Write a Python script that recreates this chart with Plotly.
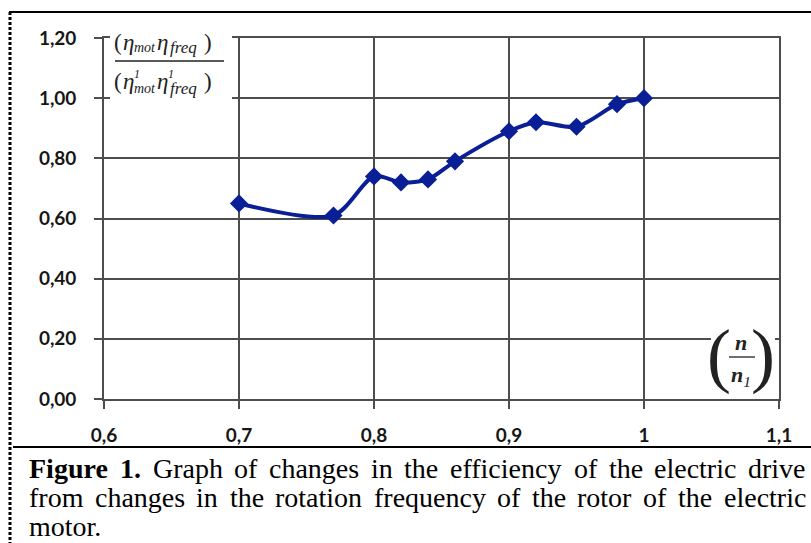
import plotly.graph_objects as go

# ---- data ----
speed_ratio = [0.70, 0.77, 0.80, 0.82, 0.84, 0.86, 0.90, 0.92, 0.95, 0.98, 1.00]
efficiency_ratio = [0.65, 0.61, 0.74, 0.72, 0.73, 0.79, 0.89, 0.92, 0.905, 0.98, 1.00]

x_tick_vals = [0.6, 0.7, 0.8, 0.9, 1.0, 1.1]
x_tick_text = ["0,6", "0,7", "0,8", "0,9", "1", "1,1"]
y_tick_vals = [0.0, 0.2, 0.4, 0.6, 0.8, 1.0, 1.2]
y_tick_text = ["0,00", "0,20", "0,40", "0,60", "0,80", "1,00", "1,20"]

caption_bold = "Figure 1."
caption_lines = [
    "Graph of changes in the efficiency of the electric drive",
    "from changes in the rotation frequency of the rotor of the electric",
    "motor.",
]

W, H = 811, 543
L, R, T, B = 104, 32, 38, 144
PW, PH = W - L - R, H - T - B


def px(x):
    return (x - L) / PW


def py(y):
    return (H - B - y) / PH


LINE = "#0A1F96"
GRID = "#4d4d4d"
TICKFONT = dict(family="Lato, 'Open Sans', sans-serif", size=19, color="#161616", weight="bold")

fig = go.Figure()
fig.add_trace(go.Scatter(
    x=speed_ratio, y=efficiency_ratio, mode="lines+markers",
    line=dict(color=LINE, width=4, shape="spline", smoothing=0.8),
    marker=dict(symbol="diamond", size=14, color=LINE),
    showlegend=False, hoverinfo="skip",
))

axis_common = dict(
    showgrid=True, gridcolor=GRID, gridwidth=1.6,
    showline=True, linecolor=GRID, linewidth=1.6,
    ticks="outside", ticklen=8, tickcolor=GRID, tickwidth=1.6,
    tickfont=TICKFONT, zeroline=False, mirror=True,
)

fig.update_xaxes(range=[0.6, 1.1], tickvals=x_tick_vals, ticktext=x_tick_text,
                 ticklabelstandoff=10, **axis_common)
fig.update_yaxes(range=[0, 1.2], tickvals=y_tick_vals, ticktext=y_tick_text,
                 ticklabelstandoff=14, **axis_common)

shapes = []
# white boxes behind axis labels
shapes.append(dict(type="rect", xref="paper", yref="paper", layer="above",
                   x0=px(110), x1=px(232), y0=py(101), y1=py(28),
                   fillcolor="white", line=dict(width=0)))
shapes.append(dict(type="rect", xref="paper", yref="paper", layer="above",
                   x0=px(711), x1=px(775), y0=py(395), y1=py(312),
                   fillcolor="white", line=dict(width=0)))
# fraction bars
shapes.append(dict(type="line", xref="paper", yref="paper", layer="above",
                   x0=px(115), x1=px(224), y0=py(61), y1=py(61),
                   line=dict(color="#222", width=1.3)))
shapes.append(dict(type="line", xref="paper", yref="paper", layer="above",
                   x0=px(729), x1=px(755), y0=py(357), y1=py(357),
                   line=dict(color="#222", width=1.3)))
# outer frame
shapes.append(dict(type="line", xref="paper", yref="paper",
                   x0=px(9), x1=px(811), y0=py(12), y1=py(12),
                   line=dict(color="black", width=2)))
shapes.append(dict(type="line", xref="paper", yref="paper",
                   x0=px(13), x1=px(811), y0=py(447), y1=py(447),
                   line=dict(color="black", width=2)))
shapes.append(dict(type="line", xref="paper", yref="paper",
                   x0=px(10), x1=px(10), y0=py(12), y1=py(543),
                   line=dict(color="black", width=3, dash="3px,2px")))

SERIF = "Liberation Serif, Times New Roman, serif"
ann = []


def label(text, x, y, size, xanchor="center", color="#222"):
    ann.append(dict(text=text, xref="paper", yref="paper", x=px(x), y=py(y),
                    xanchor=xanchor, yanchor="middle", borderpad=0,
                    showarrow=False, font=dict(family=SERIF, size=size, color=color)))


# y-axis label (fraction), built piece by piece
for yc, sup in ((42, False), (82, True)):
    label("(", 118, yc, 23)
    label("<i>η</i>", 128, yc, 23)
    label("<i>mot</i>", 145, yc + 6, 14)
    label("<i>η</i>", 162, yc, 23)
    label("<i>freq</i>", 183, yc + 6, 17)
    label(")", 208, yc, 23)
    if sup:
        label("<i>1</i>", 137, yc - 8, 12)
        label("<i>1</i>", 171, yc - 8, 12)

# x-axis label (n / n1)
label("(", 719, 355, 72)
label(")", 763, 355, 72)
label("<i><b>n</b></i>", 741, 342, 22)
label("<i><b>n</b></i><sub><i>1</i></sub>", 741, 376, 22)

# ---- caption: justified by placing words (Times metrics, per 1000 em) ----
REG = dict(a=444, b=500, c=444, d=500, e=444, f=333, g=500, h=500, i=278, j=278, k=500,
           l=278, m=778, n=500, o=500, p=500, q=500, r=333, s=389, t=278, u=500, v=500,
           w=722, x=500, y=500, z=444, G=722)
REG["."] = 250
BOLD = dict(F=611, i=278, g=500, u=556, r=444, e=444)
BOLD["1"] = 500
BOLD["."] = 250

FS = 28
X0, X1 = 28, 805


def wwidth(word, table):
    return sum(table.get(ch, 500) for ch in word) * FS / 1000.0


line_words = []
first = [(w, True) for w in caption_bold.split()] + [(w, False) for w in caption_lines[0].split()]
line_words.append((first, True))
line_words.append(([(w, False) for w in caption_lines[1].split()], True))
line_words.append(([(w, False) for w in caption_lines[2].split()], False))

for li, (words, justify) in enumerate(line_words):
    widths = [wwidth(w, BOLD if b else REG) for w, b in words]
    if justify and len(words) > 1:
        gap = (X1 - X0 - sum(widths)) / (len(words) - 1)
    else:
        gap = 0.25 * FS
    x = X0
    yc = 468 + 29 * li
    for (w, b), wd in zip(words, widths):
        txt = f"<b>{w}</b>" if b else w
        label(txt, x, yc, FS, xanchor="left", color="black")
        x += wd + gap

fig.update_layout(
    width=W, height=H, margin=dict(l=L, r=R, t=T, b=B),
    paper_bgcolor="white", plot_bgcolor="white",
    shapes=shapes, annotations=ann,
)

fig.write_html("out.html", config={"displayModeBar": False},
               post_script="document.body.style.margin='0';")
